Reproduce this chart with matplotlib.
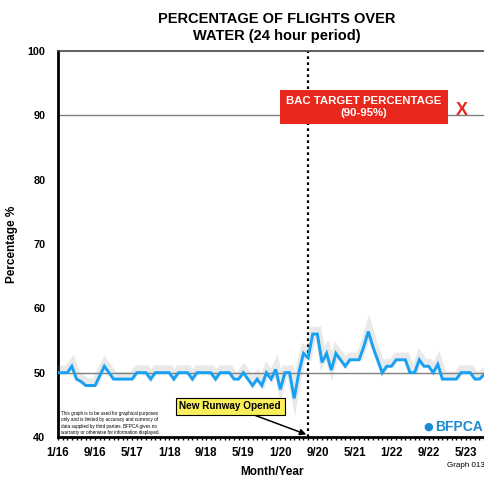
import matplotlib
matplotlib.use("Agg")
import matplotlib.pyplot as plt
import matplotlib.patheffects as pe
import numpy as np

# monthly share of flights over water, Jan 2016 .. Sep 2023
pct_over_water = [
    50, 50, 50, 51, 49, 48.6, 48, 48, 48, 49.5, 51, 50,
    49, 49, 49, 49, 49, 50, 50, 50, 49, 50, 50, 50,
    50, 49, 50, 50, 50, 49, 50, 50, 50, 50, 49, 50,
    50, 50, 49, 49, 50, 49, 48, 49, 48, 50, 49, 50.5,
    47.4, 50, 50, 46, 50, 53, 52.3, 56, 56, 51.6, 53, 50.4,
    53, 52, 51, 52, 52, 52, 54, 56.4, 54, 52, 50, 51,
    51, 52, 52, 52, 50, 50, 52, 51, 51, 50, 51.3, 49,
    49, 49, 49, 50, 50, 50, 49, 49, 49.7,
]
tick_labels = ["1/16", "9/16", "5/17", "1/18", "9/18", "5/19",
               "1/20", "9/20", "5/21", "1/22", "9/22", "5/23"]
runway_opened = 54  # July 2020
ref_lines = [50, 90]

disclaimer = ("This graph is to be used for graphical purposes\n"
              "only and is limited by accuracy and currency of\n"
              "data supplied by third parties. BFPCA gives no\n"
              "warranty or otherwise for information displayed.")

plt.rcParams["font.family"] = ["Liberation Sans", "DejaVu Sans"]

months = np.arange(len(pct_over_water))

fig = plt.figure(figsize=(4.85, 4.80), dpi=100)
ax = fig.add_axes([58 / 485, 43 / 480, 1 - 58 / 485 + 0.002, 386 / 480])

for y in ref_lines:
    ax.axhline(y, color="#808080", lw=1.0, zorder=1)

ax.axvline(runway_opened, color="black", ls=(0, (1.2, 1.5)), lw=1.6, zorder=2)

ax.plot(months, pct_over_water, color="#18a0f2", lw=2.1, zorder=3,
        solid_joinstyle="miter",
        path_effects=[pe.SimpleLineShadow(offset=(0.5, 2.5), shadow_color="#888888",
                                          alpha=0.18, linewidth=5.5),
                      pe.Normal()])

ax.set_xlim(0, 92.4)
ax.set_ylim(40, 100)
ax.set_yticks(range(40, 101, 10))
ax.set_xticks(months[::8][:len(tick_labels)])
ax.set_xticklabels(tick_labels)
ax.set_xticks(months, minor=True)

for lab in ax.get_xticklabels() + ax.get_yticklabels():
    lab.set_fontweight("bold")
ax.tick_params(axis="x", which="both", direction="out", length=2.5, width=1,
               labelsize=8.3, pad=5)
ax.tick_params(axis="y", length=0, labelsize=7.8, pad=9)

ax.spines["left"].set_linewidth(2)
ax.spines["bottom"].set_linewidth(2)
ax.spines["top"].set_linewidth(1.2)
ax.spines["top"].set_color("#444444")
ax.spines["right"].set_visible(False)

ax.set_xlabel("Month/Year", fontsize=8.5, fontweight="bold", labelpad=5)
ax.set_ylabel("Percentage %", fontsize=8.5, fontweight="bold", labelpad=7)

fig.text(0.571, 0.943, "PERCENTAGE OF FLIGHTS OVER\nWATER (24 hour period)",
         ha="center", va="center", fontsize=10.5, fontweight="bold", linespacing=1.3)

# BAC target box
ax.text(66, 91.3, "BAC TARGET PERCENTAGE\n(90-95%)", ha="center", va="center",
        color="white", fontsize=8.2, fontweight="bold", linespacing=1.15, zorder=5,
        bbox=dict(boxstyle="square,pad=0.55", fc="#e8281c", ec="none"))
ax.text(87.1, 90.8, "X", ha="center", va="center", color="#e8281c",
        fontsize=13, fontweight="bold", zorder=5)

# runway annotation
ax.annotate("New Runway Opened", xy=(53.6, 40.4), xytext=(37.2, 44.8),
            ha="center", va="center", fontsize=7.2, fontweight="bold", zorder=5,
            bbox=dict(boxstyle="square,pad=0.35", fc="#f9ef5a", ec="black", lw=0.8),
            arrowprops=dict(arrowstyle="-|>", color="black", lw=1.1,
                            mutation_scale=9, shrinkA=0, shrinkB=0))

ax.text(0.006, 0.068, disclaimer, transform=ax.transAxes, ha="left", va="top",
        fontsize=3.3, linespacing=1.35)

ax.text(0.992, 0.027, "BFPCA", transform=ax.transAxes, ha="right", va="center",
        fontsize=10, fontweight="bold", color="#1b8ad0")
ax.text(0.866, 0.027, "\u25CF", transform=ax.transAxes, ha="center", va="center",
        fontsize=8, color="#1b8ad0", family="DejaVu Sans")

fig.text(0.999, 0.030, "Graph 013", ha="right", va="center", fontsize=5.8)

fig.savefig("out.png", dpi=100)
